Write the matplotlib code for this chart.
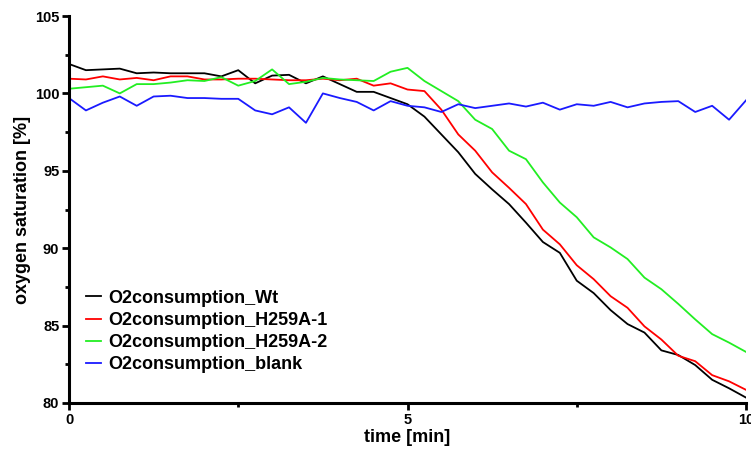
import matplotlib.pyplot as plt
from matplotlib.ticker import MultipleLocator
import numpy as np

# time axis: one reading every 15 s
time_min = np.arange(41) * 0.25

wt = [101.9, 101.5, 101.55, 101.6, 101.3, 101.35, 101.3, 101.3, 101.3, 101.1,
      101.5, 100.65, 101.15, 101.2, 100.65, 101.1, 100.6, 100.1, 100.1, 99.7,
      99.3, 98.5, 97.35, 96.2, 94.8, 93.8, 92.85, 91.65, 90.4, 89.7,
      87.9, 87.1, 86.0, 85.1, 84.55, 83.4, 83.1, 82.45, 81.5, 80.95, 80.35]
h259a_1 = [100.95, 100.9, 101.1, 100.9, 101.0, 100.85, 101.1, 101.1, 100.9, 100.9,
           100.95, 100.95, 100.9, 100.85, 100.85, 100.95, 100.85, 100.95, 100.5, 100.65,
           100.25, 100.15, 98.95, 97.35, 96.3, 94.9, 93.9, 92.85, 91.2, 90.25,
           88.9, 88.0, 86.9, 86.15, 84.95, 84.1, 83.05, 82.7, 81.8, 81.4, 80.85]
h259a_2 = [100.3, 100.4, 100.5, 100.0, 100.6, 100.6, 100.7, 100.85, 100.8, 101.05,
           100.5, 100.8, 101.55, 100.6, 100.75, 101.0, 100.9, 100.85, 100.8, 101.4,
           101.65, 100.8, 100.15, 99.5, 98.3, 97.7, 96.3, 95.75, 94.25, 92.95,
           92.0, 90.7, 90.05, 89.3, 88.1, 87.35, 86.4, 85.4, 84.45, 83.9, 83.3]
blank = [99.7, 98.9, 99.4, 99.8, 99.2, 99.8, 99.85, 99.7, 99.7, 99.65,
         99.65, 98.9, 98.65, 99.1, 98.1, 100.0, 99.7, 99.45, 98.9, 99.5,
         99.2, 99.1, 98.8, 99.3, 99.05, 99.2, 99.35, 99.15, 99.4, 98.95,
         99.3, 99.2, 99.45, 99.1, 99.35, 99.45, 99.5, 98.8, 99.2, 98.3, 99.55]

plt.rcParams['font.family'] = ['Liberation Sans', 'DejaVu Sans']
plt.rcParams['font.weight'] = 'bold'

fig = plt.figure(figsize=(7.51, 4.54), dpi=100)
ax = fig.add_axes([69 / 751, 1 - 403 / 454, (746 - 69) / 751, (403 - 16) / 454])

ax.plot(time_min, wt, color='black', lw=1.3, label='O2consumption_Wt')
ax.plot(time_min, h259a_1, color='#ff0000', lw=1.3, label='O2consumption_H259A-1')
ax.plot(time_min, h259a_2, color='#22ee22', lw=1.3, label='O2consumption_H259A-2')
ax.plot(time_min, blank, color='#1a1aff', lw=1.3, label='O2consumption_blank')

ax.set_xlim(0, 10)
ax.set_ylim(80, 105)
ax.xaxis.set_major_locator(MultipleLocator(5))
ax.xaxis.set_minor_locator(MultipleLocator(2.5))
ax.yaxis.set_major_locator(MultipleLocator(5))
ax.yaxis.set_minor_locator(MultipleLocator(2.5))

for side in ('top', 'right'):
    ax.spines[side].set_visible(False)
for side in ('left', 'bottom'):
    ax.spines[side].set_linewidth(2.2)
ax.tick_params(which='major', length=5, width=2, labelsize=10.5, pad=2)
ax.tick_params(which='minor', length=3, width=2)
for lab in ax.get_xticklabels() + ax.get_yticklabels():
    lab.set_fontweight('bold')

ax.set_xlabel('time [min]', fontsize=13, fontweight='bold', labelpad=2)
ax.set_ylabel('oxygen saturation [%]', fontsize=13, fontweight='bold', labelpad=3)

ax.legend(loc='lower left', bbox_to_anchor=(0.015, 0.059), borderaxespad=0,
          frameon=False, handlelength=0.8, handletextpad=0.4, labelspacing=0.28,
          prop={'size': 13, 'weight': 'bold'})

fig.savefig('out.png', dpi=100)
